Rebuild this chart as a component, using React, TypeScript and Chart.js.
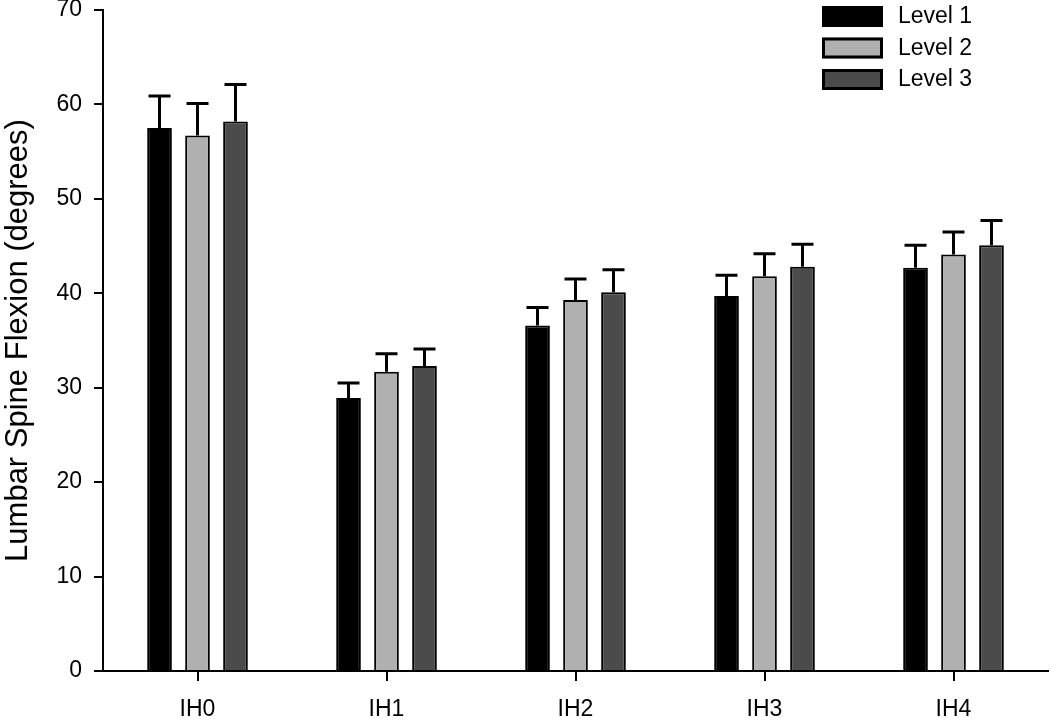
import React, { useEffect, useRef } from "react";
import { Chart, registerables } from "chart.js";

Chart.register(...registerables);

const categories = ["IH0", "IH1", "IH2", "IH3", "IH4"];
const seriesNames = ["Level 1", "Level 2", "Level 3"];
const level1 = [57.5, 28.9, 36.6, 39.7, 42.7];
const level2 = [56.7, 31.7, 39.3, 41.8, 44.1];
const level3 = [58.2, 32.3, 40.1, 42.8, 45.1];
const err1 = [3.4, 1.6, 1.9, 2.2, 2.4];
const err2 = [3.4, 1.9, 2.2, 2.4, 2.4];
const err3 = [3.9, 1.8, 2.4, 2.4, 2.6];
const colors = ["#000000", "#b0b0b0", "#4b4b4b"];
const yTicks = [0, 10, 20, 30, 40, 50, 60, 70];

const FONT = "'Liberation Sans', Arial, sans-serif";

const errorBarPlugin = {
  id: "errorBars",
  afterDatasetsDraw(chart: any) {
    const ctx = chart.ctx;
    const yScale = chart.scales.y;
    const errs = [err1, err2, err3];
    ctx.save();
    ctx.strokeStyle = "#000";
    ctx.lineWidth = 3;
    chart.data.datasets.forEach((ds: any, di: number) => {
      const meta = chart.getDatasetMeta(di);
      meta.data.forEach((bar: any, i: number) => {
        const v = ds.data[i];
        const top = yScale.getPixelForValue(v + errs[di][i]);
        ctx.beginPath();
        ctx.moveTo(bar.x, bar.y);
        ctx.lineTo(bar.x, top);
        ctx.moveTo(bar.x - 11, top);
        ctx.lineTo(bar.x + 11, top);
        ctx.stroke();
      });
    });
    ctx.restore();
  },
};

const legendPlugin = {
  id: "customLegend",
  afterDraw(chart: any) {
    const ctx = chart.ctx;
    ctx.save();
    seriesNames.forEach((name, i) => {
      const y = 6 + i * 31.5;
      ctx.fillStyle = colors[i];
      ctx.fillRect(822, y, 61, 21);
      ctx.strokeStyle = "#000";
      ctx.lineWidth = 3;
      ctx.strokeRect(823.5, y + 1.5, 58, 18);
      ctx.fillStyle = "#000";
      ctx.font = `23px ${FONT}`;
      ctx.textBaseline = "middle";
      ctx.textAlign = "left";
      ctx.fillText(name, 898, y + 11);
    });
    ctx.restore();
  },
};

export default function App() {
  const ref = useRef<HTMLCanvasElement>(null);
  useEffect(() => {
    if (!ref.current) return;
    const data = [level1, level2, level3];
    const chart = new Chart(ref.current, {
      type: "bar",
      data: {
        labels: categories,
        datasets: seriesNames.map((name, i) => ({
          label: name,
          data: data[i],
          backgroundColor: colors[i],
          borderColor: "#000",
          borderWidth: 2,
          categoryPercentage: 0.603,
          barPercentage: 0.65,
        })),
      },
      options: {
        animation: false,
        responsive: false,
        maintainAspectRatio: false,
        layout: { padding: { top: 10, right: 2, left: 0, bottom: 0 } },
        plugins: { legend: { display: false }, tooltip: { enabled: false } },
        scales: {
          x: {
            afterFit: (s: any) => {
              s.height = 49;
              s.paddingLeft = 0;
              s.paddingRight = 0;
            },
            grid: {
              offset: false,
              drawOnChartArea: false,
              drawTicks: true,
              tickLength: 10,
              color: "#000",
              lineWidth: 2,
            },
            border: { display: true, color: "#000", width: 2 },
            ticks: {
              color: "#000",
              font: { family: FONT, size: 23 },
              padding: 15,
            },
          },
          y: {
            min: 0,
            max: 70,
            afterFit: (s: any) => {
              s.width = 103;
              s.paddingTop = 0;
              s.paddingBottom = 0;
            },
            afterBuildTicks: (s: any) => {
              s.ticks = yTicks.map((v) => ({ value: v }));
            },
            grid: {
              drawOnChartArea: false,
              drawTicks: true,
              tickLength: 9,
              color: "#000",
              lineWidth: 2,
            },
            border: { display: true, color: "#000", width: 2 },
            ticks: {
              color: "#000",
              font: { family: FONT, size: 23 },
              padding: 12,
            },
            title: {
              display: true,
              text: "Lumbar Spine Flexion (degrees)",
              color: "#000",
              font: { family: FONT, size: 31 },
              padding: { top: 0, bottom: 0 },
            },
          },
        },
      },
      plugins: [errorBarPlugin, legendPlugin],
    });
    return () => chart.destroy();
  }, []);
  return (
    <div
      style={{
        position: "fixed",
        left: 0,
        top: 0,
        width: 1050,
        height: 720,
        background: "#fff",
        overflow: "hidden",
      }}
    >
      <canvas ref={ref} width={1050} height={720} style={{ width: 1050, height: 720 }} />
    </div>
  );
}
